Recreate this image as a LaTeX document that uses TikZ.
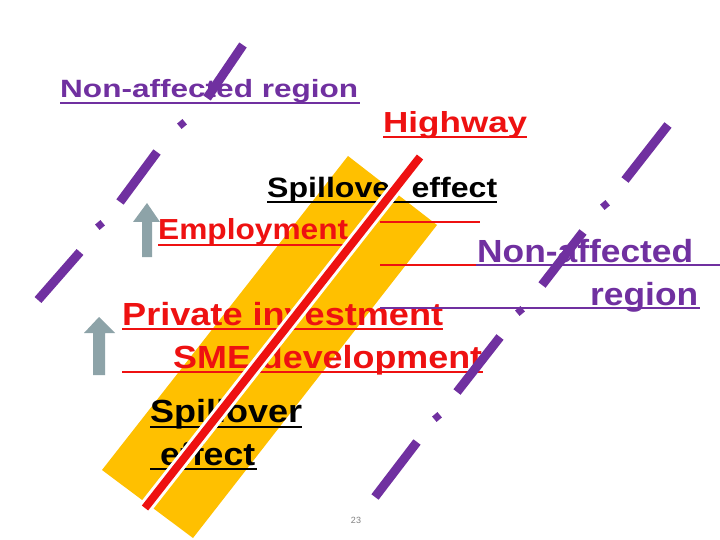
\documentclass[tikz,border=0pt]{standalone}
\usepackage{fontspec}
\setmainfont{Liberation Sans}
\usepackage{graphicx}
\definecolor{band}{HTML}{FFC000}
\definecolor{purp}{HTML}{7030A0}
\definecolor{hred}{HTML}{EE1111}
\definecolor{arr}{HTML}{8DA3A8}
\tikzset{
  txt/.style={inner sep=0pt, anchor=base west},
  ulr/.style={draw=hred, line width=2.2pt},
  ulp/.style={draw=purp, line width=2.2pt},
  ulk/.style={draw=black, line width=2.2pt},
  pdash/.style={draw=purp, line width=9pt},
  dia/.style={fill=purp, minimum size=7pt, inner sep=0pt, rotate=40, draw=none},
}
\newcommand\wt[3]{\resizebox{#2pt}{\height}{\fontsize{#1}{#1}\selectfont\bfseries #3}}
\begin{document}
\begin{tikzpicture}[x=1pt,y=-1pt]
\useasboundingbox (0,0) rectangle (720,540);
\fill[white] (0,0) rectangle (720,540);
% band
\fill[band] (348,156) -- (437,225) -- (193,538) -- (102,470) -- cycle;
% texts
\node[txt, text=purp] (nar) at (60,98) {\wt{25}{298}{Non-affected region}};
\node[txt, text=hred] (hw) at (383,133) {\wt{29}{144}{Highway}};
\node[txt] (sp1) at (267,197) {\wt{28}{230}{Spillover effect}};
\node[txt, text=hred] (emp) at (158,240) {\wt{29}{190}{Employment}};
\node[txt, text=purp] (na2) at (477,262) {\wt{32}{216}{Non-affected}};
\node[txt, text=purp] (reg) at (590,305) {\wt{32}{108}{region}};
\node[txt, text=hred] (pi) at (122,325) {\wt{32}{321}{Private investment}};
\node[txt, text=hred] (sme) at (173,368) {\wt{32}{309}{SME development}};
\node[txt] (sp2) at (150,422) {\wt{32}{152}{Spillover}};
\node[txt] (eff) at (160,465) {\wt{32}{95}{effect}};
\node[text=gray, inner sep=0pt, font=\fontsize{9}{9}\selectfont] (pg) at (356,520) {23};
% underlines
\draw[ulp] (60,103) -- (360,103);
\draw[ulr] (383,137) -- (527,137);
\draw[ulk] (267,202) -- (497,202);
\draw[ulr] (158,245) -- (348,245);
\draw[ulr] (380,222) -- (480,222);
\draw[ulr] (380,265) -- (476,265);
\draw[ulp] (476,265) -- (720,265);
\draw[ulp] (380,308) -- (700,308);
\draw[ulr] (122,329) -- (443,329);
\draw[ulr] (122,372) -- (483,372);
\draw[ulk] (150,427) -- (302,427);
\draw[ulk] (150,469) -- (257,469);
% red highway line
\coordinate (rt) at (420,157);
\coordinate (rb) at (145,508);
\draw[white, line width=14pt] (rt) -- (rb);
\draw[hred, line width=8pt] (rt) -- (rb);
% arrows
\fill[arr] (142,257) -- (142,222) -- (133,222) -- (147,203) -- (160,222) -- (152,222) -- (152,257) -- cycle;
\fill[arr] (93,375) -- (93,333) -- (84,333) -- (99,317) -- (115,333) -- (105,333) -- (105,375) -- cycle;
% purple dashed lines
\draw[pdash] (243,45) -- (207,98);
\node[dia] (d1) at (182,124) {};
\draw[pdash] (157,152) -- (120,202);
\node[dia] (d2) at (100,225) {};
\draw[pdash] (80,252) -- (38,300);
\draw[pdash] (668,125) -- (625,180);
\node[dia] (d3) at (605,205) {};
\draw[pdash] (583,232) -- (542,285);
\node[dia] (d4) at (520,311) {};
\draw[pdash] (500,337) -- (457,392);
\node[dia] (d5) at (437,417) {};
\draw[pdash] (417,442) -- (375,497);
\end{tikzpicture}
\end{document}
